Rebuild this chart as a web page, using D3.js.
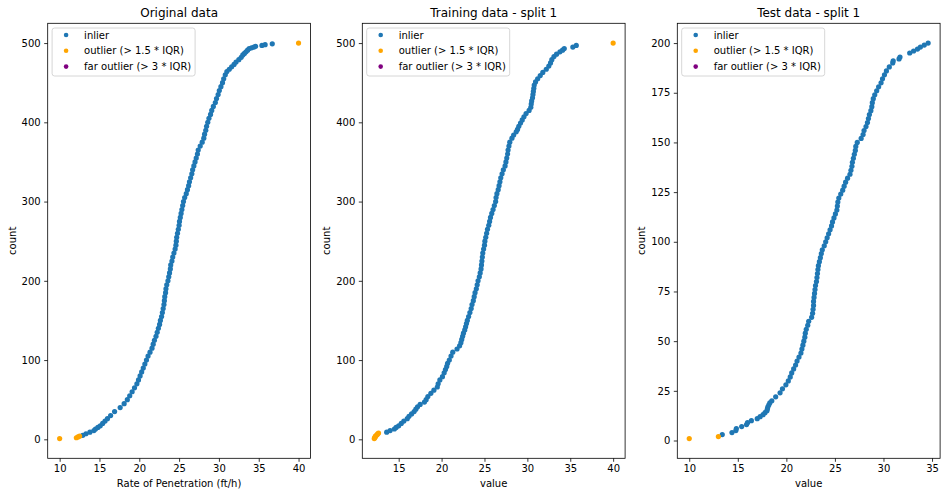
<!DOCTYPE html>
<html>
<head>
<meta charset="utf-8">
<script src="https://cdn.jsdelivr.net/npm/d3@7"></script>
<style>
  body { margin: 0; background: #fff; }
  text { font-family: "DejaVu Sans", sans-serif; }
</style>
</head>
<body>
<div class="canva"></div>
<script>
// [count, value] pairs (sorted values, count = rank)
const origInliers = [[5,12.9],[7,13.3],[9,13.8],[11,14.3],[13,14.5],[15,14.8],[17,15.1],[20,15.4],[23,15.7],[26,16.0],
  [30,16.4],[35,16.9],[40,17.6],[45,18.1],[50,18.5],[55,18.8],[60,19.1],[65,19.4],[70,19.7],[75,19.9],
  [80,20.1],[85,20.3],[90,20.5],[95,20.7],[100,20.9],[105,21.1],[110,21.35],[115,21.6],[120,21.75],[125,21.9],
  [130,22.1],[135,22.25],[140,22.4],[145,22.55],[150,22.65],[155,22.8],[160,22.9],[165,23.0],[170,23.1],[175,23.15],
  [180,23.2],[185,23.3],[190,23.35],[195,23.45],[200,23.6],[205,23.7],[210,23.8],[215,23.9],[220,23.95],[225,24.1],
  [230,24.2],[235,24.35],[240,24.5],[245,24.6],[250,24.65],[255,24.7],[260,24.8],[265,24.9],[270,25.0],[275,25.05],
  [280,25.15],[285,25.25],[290,25.35],[295,25.45],[300,25.55],[305,25.7],[310,25.9],[315,26.05],[320,26.2],[325,26.3],
  [330,26.45],[335,26.6],[340,26.7],[345,26.85],[350,27.0],[355,27.15],[360,27.3],[365,27.4],[370,27.65],[375,27.9],
  [380,28.1],[385,28.2],[390,28.35],[395,28.45],[400,28.6],[405,28.75],[410,28.95],[415,29.1],[420,29.3],[425,29.55],
  [430,29.7],[435,29.9],[440,30.05],[445,30.25],[450,30.45],[455,30.6],[460,30.8],[464,31.0],[467,31.3],[470,31.6],
  [473,31.9],[476,32.15],[479,32.5],[482,32.8],[485,33.0],[487,33.2],[489,33.4],[491,33.6],[493,33.8],[494,34.1],
  [495,34.4],[496,34.6],[497,35.4],[498,35.8],[499,36.7]]
const origOutliers = [[1,10.0],[2,12.1],[3,12.3],[4,12.5],[500,40.0]]
const origFar = []

const trainInliers = [[9,13.6],[11,14.0],[13,14.5],[15,14.7],[17,15.0],[20,15.3],[23,15.6],[26,16.0],[29,16.2],[32,16.5],
  [35,16.8],[38,17.0],[41,17.2],[44,17.5],[47,18.0],[50,18.2],[54,18.4],[58,18.75],[62,19.1],[66,19.5],
  [70,19.6],[75,19.8],[79,20.1],[84,20.3],[88,20.45],[92,20.6],[96,20.7],[100,20.9],[105,21.1],[110,21.3],
  [114,21.8],[118,22.1],[122,22.25],[126,22.35],[130,22.45],[134,22.55],[138,22.7],[142,22.8],[146,22.9],[150,23.0],
  [155,23.15],[160,23.3],[165,23.45],[170,23.55],[175,23.7],[180,23.8],[185,23.9],[190,24.05],[195,24.15],[200,24.25],
  [205,24.4],[210,24.5],[215,24.6],[220,24.65],[225,24.7],[230,24.75],[235,24.8],[240,24.9],[245,25.0],[250,25.05],
  [255,25.15],[260,25.25],[265,25.35],[270,25.5],[275,25.6],[280,25.7],[285,25.85],[290,26.0],[295,26.15],[300,26.3],
  [305,26.35],[310,26.45],[315,26.6],[320,26.7],[325,26.8],[330,26.9],[335,27.05],[340,27.2],[345,27.4],[350,27.5],
  [355,27.6],[360,27.7],[365,27.75],[370,27.85],[375,27.95],[380,28.2],[384,28.4],[388,28.7],[391,28.85],[395,29.0],
  [399,29.2],[403,29.4],[407,29.6],[411,29.85],[415,30.2],[419,30.4],[423,30.45],[427,30.5],[431,30.6],[435,30.65],
  [439,30.7],[443,30.75],[447,30.8],[451,30.95],[455,31.2],[459,31.5],[463,31.8],[467,32.2],[471,32.5],[475,32.7],
  [479,32.85],[483,33.1],[486,33.4],[489,33.8],[491,34.1],[493,34.3],[495,35.3],[497,35.7]]
const trainOutliers = [[1,12.15],[2,12.2],[3,12.25],[4,12.3],[5,12.4],[6,12.5],[7,12.55],[8,12.65],[500,40.0]]
const trainFar = []

const testInliers = [[3,13.4],[4,14.4],[5,14.8],[6,14.85],[7,15.4],[8,15.9],[9,16.0],[10,16.4],[11,17.0],[12,17.3],
  [13,17.6],[14,17.8],[15,18.0],[16,18.05],[17,18.1],[18,18.2],[19,18.3],[20,18.5],[22,18.9],[24,19.35],
  [26,19.6],[28,19.95],[30,20.2],[32,20.4],[34,20.55],[36,20.75],[38,20.95],[40,21.1],[42,21.3],[44,21.5],
  [46,21.6],[48,21.7],[50,21.8],[52,21.9],[54,21.95],[56,22.05],[58,22.2],[60,22.3],[62,22.6],[64,22.7],
  [66,22.75],[68,22.8],[70,22.8],[72,22.85],[74,22.9],[76,22.95],[78,23.0],[80,23.1],[82,23.15],[84,23.2],
  [86,23.25],[88,23.3],[90,23.4],[92,23.5],[94,23.6],[96,23.7],[98,23.9],[100,24.05],[102,24.2],[104,24.35],
  [106,24.5],[108,24.65],[110,24.75],[112,24.9],[114,25.05],[116,25.2],[118,25.25],[120,25.3],[122,25.4],[124,25.6],
  [126,25.8],[128,25.95],[130,26.1],[132,26.3],[134,26.55],[136,26.65],[138,26.75],[140,26.8],[142,26.9],[144,27.0],
  [146,27.1],[148,27.15],[150,27.3],[152,27.7],[154,27.9],[156,28.0],[158,28.2],[160,28.35],[162,28.45],[164,28.55],
  [166,28.7],[168,28.8],[170,28.85],[172,28.95],[174,29.1],[176,29.3],[178,29.5],[180,29.75],[182,29.9],[184,30.1],
  [186,30.3],[188,30.6],[190,30.95],[191,31.0],[192,31.6],[193,31.7],[195,32.7],[196,33.1],[197,33.5],[198,33.8],
  [199,34.2],[200,34.6]]
const testOutliers = [[1,10.0],[2,13.0]]
const testFar = []

const xTicksOrig = [10, 15, 20, 25, 30, 35, 40]
const xTicksTrain = [15, 20, 25, 30, 35, 40]
const xTicksTest = [10, 15, 20, 25, 30, 35]
const yTicks500 = [0, 100, 200, 300, 400, 500]
const yTicks200 = [0, 25, 50, 75, 100, 125, 150, 175, 200]

const legendLabels = ["inlier", "outlier (> 1.5 * IQR)", "far outlier (> 3 * IQR)"]
const colors = ["#1f77b4", "orange", "purple"]

const width = 947
const height = 496
const axTop = 23.3, axBottom = 458.3, axW = 262.8
const axH = axBottom - axTop
const dotR = 2.6

const svg = d3.select(".canva").append("svg").attr("width", width).attr("height", height)

const panels = [
  {title: "Original data", xlabel: "Rate of Penetration (ft/h)", left: 47.7,
   sets: [origInliers, origOutliers, origFar], xticks: xTicksOrig, yticks: yTicks500},
  {title: "Training data - split 1", xlabel: "value", left: 362.3,
   sets: [trainInliers, trainOutliers, trainFar], xticks: xTicksTrain, yticks: yTicks500},
  {title: "Test data - split 1", xlabel: "value", left: 677.3,
   sets: [testInliers, testOutliers, testFar], xticks: xTicksTest, yticks: yTicks200}
]

// matplotlib-style 5% margins around the data
function padded(ext) {
  const m = (ext[1] - ext[0]) * 0.05
  return [ext[0] - m, ext[1] + m]
}

panels.forEach(function (p) {
  const all = p.sets.flat()
  const x = d3.scaleLinear().domain(padded(d3.extent(all, d => d[1]))).range([0, axW])
  const y = d3.scaleLinear().domain(padded(d3.extent(all, d => d[0]))).range([axH, 0])

  const g = svg.append("g").attr("transform", `translate(${p.left},${axTop})`)

  // points
  p.sets.forEach(function (set, i) {
    g.append("g")
      .selectAll("circle")
      .data(set)
      .enter()
      .append("circle")
      .attr("cx", d => x(d[1]))
      .attr("cy", d => y(d[0]))
      .attr("r", dotR)
      .attr("fill", colors[i])
  })

  // axes
  const xa = g.append("g").attr("transform", `translate(0,${axH})`)
    .call(d3.axisBottom(x).tickValues(p.xticks).tickSize(3.5).tickPadding(3.5).tickFormat(d3.format("d")))
  const ya = g.append("g")
    .call(d3.axisLeft(y).tickValues(p.yticks).tickSize(3.5).tickPadding(3.5).tickFormat(d3.format("d")))
  ;[xa, ya].forEach(function (a) {
    a.select(".domain").remove()
    a.attr("font-family", "DejaVu Sans, sans-serif").attr("font-size", 10)
    a.selectAll("line").attr("stroke", "#000").attr("stroke-width", 0.8)
    a.selectAll("text").attr("fill", "#000")
  })

  // frame
  g.append("rect")
    .attr("width", axW).attr("height", axH)
    .attr("fill", "none").attr("stroke", "#000").attr("stroke-width", 0.8)

  // title and labels
  g.append("text").attr("x", axW / 2).attr("y", -6.3)
    .attr("text-anchor", "middle").attr("font-size", 12).text(p.title)
  g.append("text").attr("x", axW / 2).attr("y", axH + 29)
    .attr("text-anchor", "middle").attr("font-size", 10).text(p.xlabel)
  g.append("text")
    .attr("transform", `translate(-32,${axH / 2}) rotate(-90)`)
    .attr("text-anchor", "middle").attr("font-size", 10).text("count")

  // legend
  const lg = g.append("g").attr("transform", "translate(4.4,4.7)")
  lg.append("rect").attr("width", 143).attr("height", 48).attr("rx", 2.5)
    .attr("fill", "#fff").attr("fill-opacity", 0.8).attr("stroke", "#ccc").attr("stroke-width", 0.8)
  legendLabels.forEach(function (label, i) {
    const ry = 7 + i * 15.8
    lg.append("circle").attr("cx", 14).attr("cy", ry).attr("r", 2.3).attr("fill", colors[i])
    lg.append("text").attr("x", 32).attr("y", ry).attr("dy", "0.35em")
      .attr("font-size", 10).text(label)
  })
})
</script>
</body>
</html>
